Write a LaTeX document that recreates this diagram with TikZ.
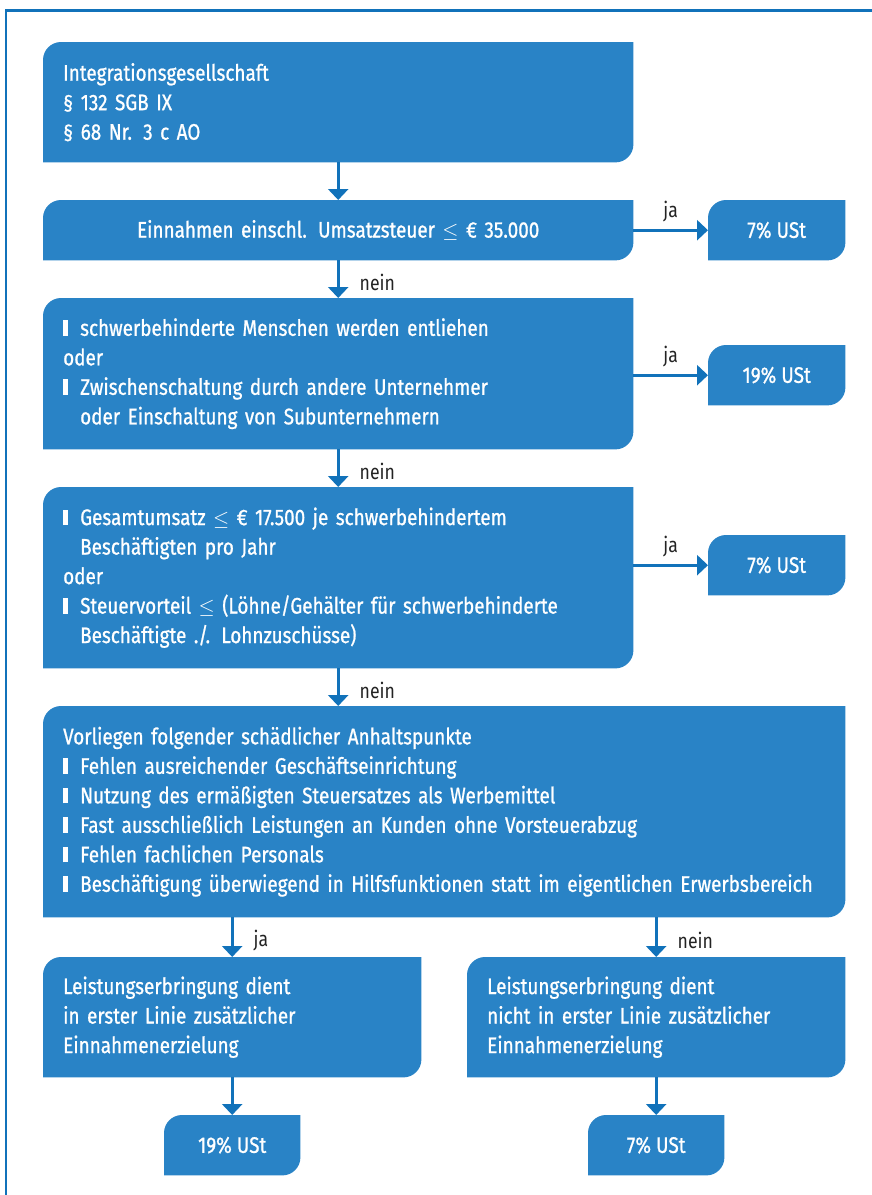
\documentclass[tikz,border=0pt]{standalone}
\usepackage{fontspec}
\setmainfont{Fira Sans}[FakeStretch=0.84]
\newfontfamily\boxfont{Fira Sans}[FakeStretch=0.84, FakeBold=0.9]
\usetikzlibrary{arrows.meta,positioning,backgrounds}
\definecolor{boxblue}{RGB}{41,131,198}
\definecolor{lineblue}{RGB}{17,114,186}
\definecolor{labelgray}{RGB}{35,35,35}
\newcommand\blt{\rule{5pt}{15.5pt}\hspace{12pt}}
\newcommand\ind{\hspace*{17pt}}
\newcommand\blockfill[1]{%
  \fill[boxblue] (#1.south west) -- ([yshift=-18pt]#1.north west)
    arc[start angle=180,end angle=90,radius=18pt] -- (#1.north east)
    -- ([yshift=18pt]#1.south east) arc[start angle=0,end angle=-90,radius=18pt] -- cycle;}

\begin{document}
\begin{tikzpicture}[x=1pt, y=-1pt, >={Triangle[width=20pt,length=11pt]},
                blk/.style={
                        anchor=north west,
                        inner xsep=20pt,
                        inner ysep=0pt,
                        text=white,
                        align=left,
                        font=\boxfont\fontsize{22.5}{29.5}\selectfont},
                ust/.style={blk, align=center, inner xsep=0pt,
                        minimum width=137pt, minimum height=60pt},
                lbl/.style={text=labelgray, inner sep=0pt,
                        font=\fontsize{21}{24}\selectfont},
                arr/.style={->, line width=3pt, draw=lineblue}]

                \useasboundingbox (0,0) rectangle (872,1195);
                \draw[lineblue, line width=2.5pt] (6,1200) -- (6,10.5) -- (880,10.5);

                \node[blk, text width=550pt, minimum height=120pt] (b1) at (43,42)
                        {Integrationsgesellschaft\\ § 132 SGB IX\\ § 68 Nr. 3 c AO};

                \node[blk, text width=550pt, minimum height=60pt, align=center] (b2) at (43,200)
                        {Einnahmen einschl. Umsatzsteuer $\leq$ € 35.000};

                \node[blk, text width=550pt, minimum height=151pt] (b3) at (43,298)
                        {\blt schwerbehinderte Menschen werden entliehen\\
                         oder\\
                         \blt Zwischenschaltung durch andere Unternehmer\\
                         \ind oder Einschaltung von Subunternehmern};

                \node[blk, text width=550pt, minimum height=181pt] (b4) at (43,487)
                        {\blt Gesamtumsatz $\leq$ € 17.500 je schwerbehindertem\\
                         \ind Beschäftigten pro Jahr\\
                         oder\\
                         \blt Steuervorteil $\leq$ (Löhne/Gehälter für schwerbehinderte\\
                         \ind Beschäftigte ./. Lohnzuschüsse)};

                \node[blk, text width=762pt, minimum height=211pt] (b5) at (43,706)
                        {Vorliegen folgender schädlicher Anhaltspunkte\\
                         \blt Fehlen ausreichender Geschäftseinrichtung\\
                         \blt Nutzung des ermäßigten Steuersatzes als Werbemittel\\
                         \blt Fast ausschließlich Leistungen an Kunden ohne Vorsteuerabzug\\
                         \blt Fehlen fachlichen Personals\\
                         \blt Beschäftigung überwiegend in Hilfsfunktionen statt im eigentlichen Erwerbsbereich};

                \node[blk, text width=338pt, minimum height=120pt] (b6) at (43,957)
                        {Leistungserbringung dient\\ in erster Linie zusätzlicher\\ Einnahmenerzielung};

                \node[blk, text width=338pt, minimum height=120pt] (b7) at (467,957)
                        {Leistungserbringung dient\\ nicht in erster Linie zusätzlicher\\ Einnahmenerzielung};

                \node[ust] (u1) at (708,200) {7\% USt};
                \node[ust] (u2) at (708,345) {19\% USt};
                \node[ust] (u3) at (708,535) {7\% USt};
                \node[ust, minimum width=136pt] (u4) at (164,1115) {19\% USt};
                \node[ust, minimum width=136pt] (u5) at (588,1115) {7\% USt};

                % blue shapes behind the texts
                \begin{scope}[on background layer]
                        \foreach \n in {b1,b2,b3,b4,b5,b6,b7,u1,u2,u3,u4,u5}
                                {\blockfill{\n}}
                \end{scope}

                \draw[arr] (b1) -- (b2);
                \draw[arr] (b2) -- (b3) node[lbl, midway, right=20pt, yshift=-3pt] {nein};
                \draw[arr] (b3) -- (b4) node[lbl, midway, right=20pt, yshift=-3pt] {nein};
                \draw[arr] (b4.south) -- (b5.north -| b4.south) node[lbl, midway, right=20pt, yshift=-3pt] {nein};

                \draw[arr] (b2.east |- u1.west) -- (u1.west) node[lbl, midway, above=7pt] {ja};
                \draw[arr] (b3.east |- u2.west) -- (u2.west) node[lbl, midway, above=7pt] {ja};
                \draw[arr] (b4.east |- u3.west) -- (u3.west) node[lbl, midway, above=7pt] {ja};

                \draw[arr] (b5.south -| b6.north) -- (b6.north) node[lbl, midway, right=20pt, yshift=-3pt] {ja};
                \draw[arr] (b5.south -| b7.north) -- (b7.north) node[lbl, midway, right=20pt, yshift=-3pt] {nein};
                \draw[arr] (b6) -- (u4);
                \draw[arr] (b7) -- (u5);
\end{tikzpicture}
\end{document}
